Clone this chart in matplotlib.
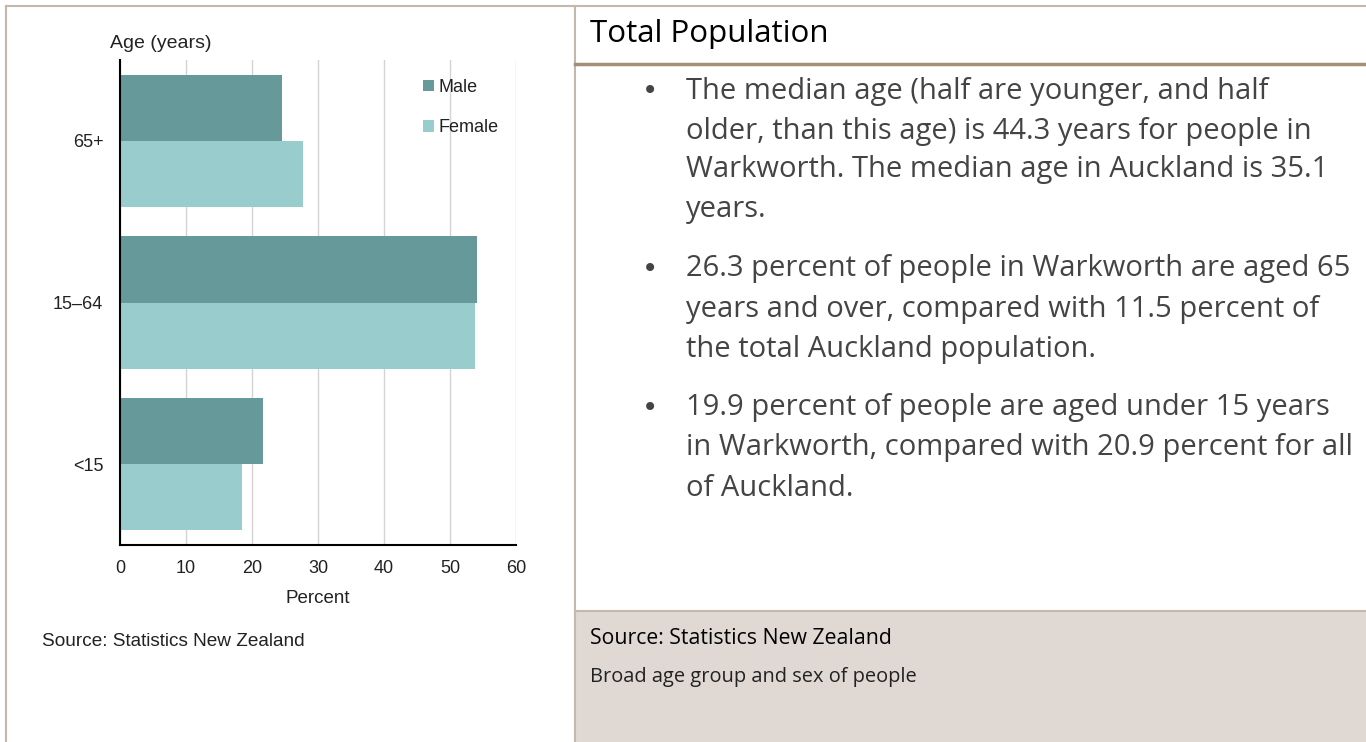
import matplotlib
matplotlib.use("Agg")
import matplotlib.pyplot as plt
from matplotlib.lines import Line2D
from matplotlib.patches import Rectangle

# data
age_groups = ["65+", "15\u201364", "<15"]
male = [24.5, 54.1, 21.7]
female = [27.7, 53.8, 18.5]
x_ticks = [0, 10, 20, 30, 40, 50, 60]

bullets = [
    ["The median age (half are younger, and half",
     "older, than this age) is 44.3 years for people in",
     "Warkworth. The median age in Auckland is 35.1",
     "years."],
    ["26.3 percent of people in Warkworth are aged 65",
     "years and over, compared with 11.5 percent of",
     "the total Auckland population."],
    ["19.9 percent of people are aged under 15 years",
     "in Warkworth, compared with 20.9 percent for all",
     "of Auckland."],
]

W, H = 1366, 742
male_col = "#669999"
female_col = "#99cccc"
border_col = "#c3b8ac"
chart_font = "Liberation Sans"
side_font = "Open Sans"


def fx(px):
    return px / W


def fy(py):
    return 1 - py / H


fig = plt.figure(figsize=(W / 100, H / 100), dpi=100)

# panel frames
fig.patches.append(Rectangle((fx(575), 0), fx(W - 575), fy(611), transform=fig.transFigure,
                             facecolor="#e0d9d3", edgecolor="none", zorder=0))
for line in [([6, W], [6, 6]), ([6, 6], [6, H]), ([575, 575], [6, H]), ([575, W], [611, 611])]:
    fig.add_artist(Line2D([fx(p) for p in line[0]], [fy(p) for p in line[1]],
                          color=border_col, lw=1.5, transform=fig.transFigure))
fig.add_artist(Line2D([fx(575), fx(W)], [fy(64), fy(64)], color="#a38f75", lw=2.5,
                      transform=fig.transFigure))

# bar chart
ax = fig.add_axes([fx(120), fy(545), fx(396), 485 / H])
pos = list(range(len(age_groups)))
h = 0.41
ax.barh([p - h / 2 for p in pos], male, height=h, color=male_col, label="Male", zorder=3)
ax.barh([p + h / 2 for p in pos], female, height=h, color=female_col, label="Female", zorder=3)
ax.set_ylim(2.5, -0.5)
ax.set_xlim(0, 60)
ax.set_xticks(x_ticks)
ax.set_yticks(pos)
ax.set_yticklabels(age_groups)
ax.grid(axis="x", color="#d4d4d4", lw=1, zorder=0)
ax.tick_params(length=0, labelsize=13, labelcolor="#222222")
ax.tick_params(axis="x", pad=11)
ax.tick_params(axis="y", pad=12)
for s in ["top", "right"]:
    ax.spines[s].set_visible(False)
for s in ["left", "bottom"]:
    ax.spines[s].set_linewidth(1.5)
    ax.spines[s].set_zorder(4)
ax.set_xlabel("Percent", fontsize=13.5, color="#222222", labelpad=9)
for t in ax.get_xticklabels() + ax.get_yticklabels():
    t.set_family(chart_font)
ax.xaxis.label.set_family(chart_font)
leg = ax.legend(loc="upper left", bbox_to_anchor=(0.725, 0.995), frameon=False,
                handlelength=0.6, handleheight=0.6, handletextpad=0.25, labelspacing=1.3,
                prop={"family": chart_font, "size": 13})
for t in leg.get_texts():
    t.set_color("#222222")

fig.text(fx(110), fy(44), "Age (years)", fontsize=14, family=chart_font,
         color="#222222", va="center")
fig.text(fx(42), fy(641), "Source: Statistics New Zealand", fontsize=13.7,
         family=chart_font, color="#222222", va="center")

# right panel text
fig.text(fx(590), fy(34), "Total Population", fontsize=22.5, family=side_font,
         color="#000000", va="center")
line_y = [[89, 129, 168, 208], [267, 307, 347], [406, 446, 486]]
for block, ys in zip(bullets, line_y):
    fig.text(fx(650), fy(ys[0] + 2), "\u2022", fontsize=20, family="DejaVu Sans",
             color="#444444", va="center", ha="center")
    for txt, y in zip(block, ys):
        fig.text(fx(686), fy(y + 2), txt, fontsize=21, family=side_font, color="#444444",
                 va="center")

fig.text(fx(590), fy(639), "Source: Statistics New Zealand", fontsize=15.3, family=side_font,
         color="#000000", va="center")
fig.text(fx(590), fy(677), "Broad age group and sex of people", fontsize=14.4, family=side_font,
         color="#222222", va="center")

fig.savefig("out.png", dpi=100)
